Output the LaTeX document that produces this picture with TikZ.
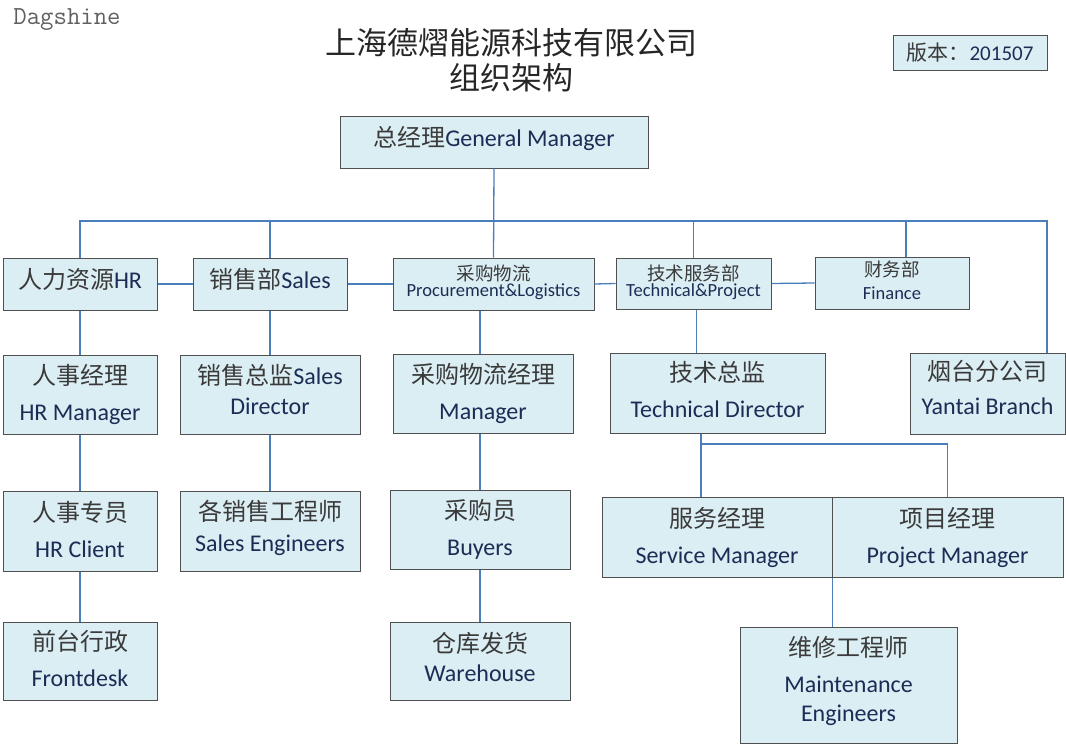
\documentclass[tikz,border=0pt]{standalone}
\usepackage{fontspec}
\setmainfont{Carlito}
\newfontfamily\cjkfont{Noto Sans CJK SC}
\definecolor{boxfill}{HTML}{DBEEF4}
\definecolor{boxline}{HTML}{505050}
\definecolor{connc}{HTML}{4A7EBB}
\definecolor{latc}{HTML}{1B2D55}
\definecolor{zhc}{HTML}{3A3A3A}
\definecolor{wmc}{HTML}{606060}
\newcommand\zhtxt[1]{{\cjkfont\color{zhc}#1}}
\begin{document}
\begin{tikzpicture}[x=1pt,y=-1pt,
  bx/.style={draw=boxline,fill=boxfill,line width=1pt,inner sep=0pt,align=center,text=latc,
    font=\fontsize{24}{36}\selectfont},
  onebx/.style={bx,text height=20pt,text depth=12pt},
  smallbx/.style={bx,font=\fontsize{18.5}{16}\selectfont},
  conn/.style={draw=connc,line width=1.3pt},
  ttl/.style={inner sep=0pt,text=black!85,font=\cjkfont\fontsize{31}{35}\selectfont}]
\useasboundingbox (0,0) rectangle (1066,744);
% watermark and title
\node[inner sep=0pt,text=wmc,font=\ttfamily\fontsize{26}{26}\selectfont] (wm) at (67,20) {Dagshine};
\node[ttl] (t1) at (511,43) {上海德熠能源科技有限公司};
\node[ttl] (t2) at (511,78) {组织架构};
\node[bx,minimum width=154pt,minimum height=35pt,font=\fontsize{21}{24}\selectfont] (ver) at (970,52.5) {\zhtxt{版本：}201507};
% top
\node[onebx,minimum width=308pt,minimum height=52pt] (gm) at (494,142) {\zhtxt{总经理}General Manager};
% row 2
\node[onebx,minimum width=154pt,minimum height=52pt] (hr) at (80,284) {\zhtxt{人力资源}HR};
\node[onebx,minimum width=154pt,minimum height=52pt] (sales) at (270,284) {\zhtxt{销售部}Sales};
\node[smallbx,minimum width=201pt,minimum height=52pt,text depth=6pt] (proc) at (493.5,284) {\zhtxt{采购物流}\\Procurement\&Logistics};
\node[smallbx,minimum width=155pt,minimum height=51pt,text depth=6pt] (tech) at (693.5,283.5) {\zhtxt{技术服务部}\\Technical\&Project};
\node[smallbx,minimum width=154pt,minimum height=52pt,text depth=5pt] (fin) at (892,283) {\zhtxt{财务部}\\[7pt]Finance};
% row 3
\node[bx,minimum width=154pt,minimum height=79pt] (hrm) at (80,394.5) {\zhtxt{人事经理}\\HR Manager};
\node[bx,minimum width=180pt,minimum height=79pt,text depth=10pt] (sd) at (270,394.5) {\zhtxt{销售总监}Sales\\[-6pt]Director};
\node[bx,minimum width=180pt,minimum height=79pt] (pm) at (483,393.5) {\zhtxt{采购物流经理}\\Manager};
\node[bx,minimum width=215pt,minimum height=80pt,text depth=8pt] (td) at (717.5,393) {\zhtxt{技术总监}\\Technical Director};
\node[bx,minimum width=155pt,minimum height=81pt,text depth=13pt] (yt) at (987.5,393.5) {\zhtxt{烟台分公司}\\[-2pt]Yantai Branch};
% row 4
\node[bx,minimum width=154pt,minimum height=80pt,text depth=4pt] (hrc) at (80,531) {\zhtxt{人事专员}\\HR Client};
\node[bx,minimum width=180pt,minimum height=80pt,text depth=10pt] (se) at (270,531) {\zhtxt{各销售工程师}\\[-5pt]Sales Engineers};
\node[bx,minimum width=180pt,minimum height=79pt] (buy) at (480,529.5) {\zhtxt{采购员}\\Buyers};
\node[bx,minimum width=230pt,minimum height=80pt] (svc) at (717,537) {\zhtxt{服务经理}\\Service Manager};
\node[bx,minimum width=231pt,minimum height=80pt] (prj) at (947.5,537) {\zhtxt{项目经理}\\Project Manager};
% row 5
\node[bx,minimum width=154pt,minimum height=78pt,text depth=5pt] (fd) at (80,661) {\zhtxt{前台行政}\\Frontdesk};
\node[bx,minimum width=180pt,minimum height=78pt,text depth=8pt] (wh) at (480,661) {\zhtxt{仓库发货}\\[-7pt]Warehouse};
\node[bx,minimum width=217pt,minimum height=116pt,text depth=12pt] (me) at (848.5,685) {\zhtxt{维修工程师}\\Maintenance\\[-7pt]Engineers};
% connectors
\coordinate (busR) at (1047,221);
\coordinate (tdj) at (701,444);
\draw[conn] (gm.south) -- (proc.north);
\draw[conn] (hr.north) |- (busR) -- (yt.north -| busR);
\draw[conn] (sales.north) -- (sales.north |- busR);
\draw[conn] (tech.north) -- (tech.north |- busR);
\draw[conn] ([xshift=14pt]fin.north) -- ([xshift=14pt]fin.north |- busR);
\draw[conn] (hr.east) -- (sales.west);
\draw[conn] (sales.east) -- (proc.west);
\draw[conn] (proc.east) -- (tech.west);
\draw[conn] (tech.east) -- (fin.west);
\draw[conn] (hr.south) -- (hrm.north);
\draw[conn] (hrm.south) -- (hrc.north);
\draw[conn] (hrc.south) -- (fd.north);
\draw[conn] (sales.south) -- (sd.north);
\draw[conn] (sd.south) -- (se.north);
\draw[conn] (proc.south -| buy.north) -- (pm.north -| buy.north);
\draw[conn] (pm.south -| buy.north) -- (buy.north);
\draw[conn] (buy.south) -- (wh.north);
\draw[conn] ([xshift=3pt]tech.south) -- ([xshift=3pt]tech.south |- td.north);
\draw[conn] (tdj |- td.south) -- (tdj |- svc.north);
\draw[conn] (tdj) -| (prj.north);
\draw[conn] (svc.south east) -- (me.north -| svc.south east);
\end{tikzpicture}
\end{document}
